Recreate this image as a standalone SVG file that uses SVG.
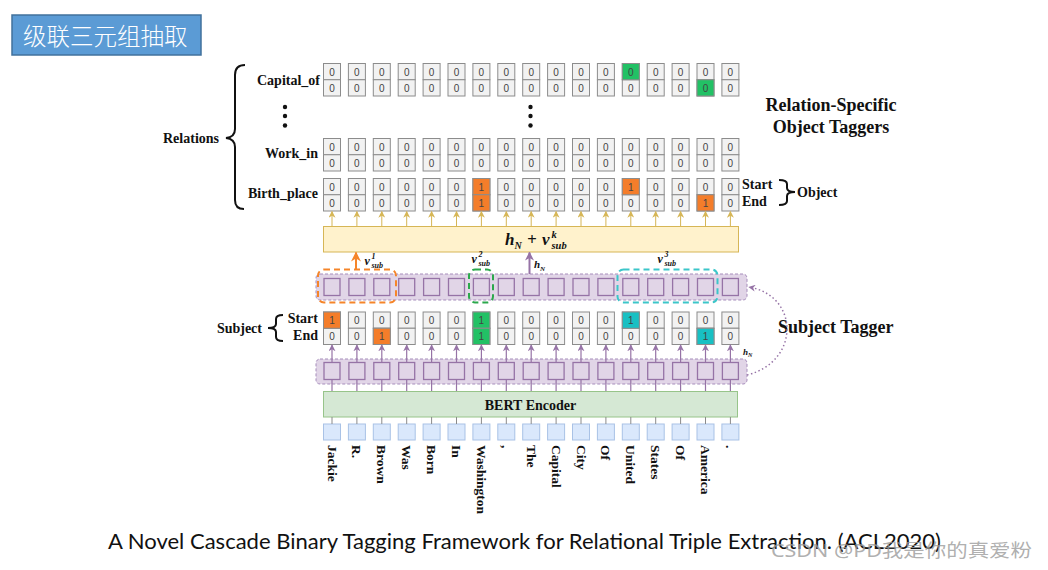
<svg xmlns="http://www.w3.org/2000/svg" xmlns:xlink="http://www.w3.org/1999/xlink" width="1048" height="570" viewBox="0 0 1048 570">
  <style>
    .cl{fill:#f2f2f2;stroke:#8c8c8c;stroke-width:1}
    .d{font-family:"Liberation Sans",Arial,sans-serif;font-size:10px;fill:#444;text-anchor:middle}
    .lb{font-family:"Liberation Serif","Times New Roman",serif;font-weight:bold;font-size:14px;fill:#111}
    .big{font-family:"Liberation Serif","Times New Roman",serif;font-weight:bold;font-size:18px;fill:#111}
    .tok{font-family:"Liberation Serif","Times New Roman",serif;font-weight:bold;font-size:13.5px;fill:#111;dominant-baseline:central}
    .mi{font-family:"Liberation Serif","Times New Roman",serif;font-weight:bold;font-style:italic;fill:#111}
    .or{fill:#f47d2a}
    .gr{fill:#22c165}
    .cy{fill:#18c0c3}
    .pc{fill:#e1d5e7;stroke:#9673a6;stroke-width:1.3}
    .tk{fill:#dae8fc;stroke:#a9c2e6;stroke-width:1}
    .gold{stroke:#d6b656;stroke-width:1}
    .pur{stroke:#9673a6;stroke-width:1.2}
    .gry{stroke:#8a8a8a;stroke-width:1}
    .brace{fill:none;stroke:#111;stroke-width:2}
  </style>
  <defs>
    <g id="c">
      <rect x="0" y="0" width="17" height="16.25" class="cl"/>
      <rect x="0" y="16.25" width="17" height="16.25" class="cl"/>
      <text x="8.5" y="12" class="d">0</text>
      <text x="8.5" y="28.3" class="d">0</text>
    </g>
    <rect id="pcell" x="0" y="0" width="16" height="17" class="pc"/>
    <rect id="tbox" x="0" y="0" width="17" height="16" class="tk"/>
    <marker id="ag" viewBox="0 0 10 10" refX="9" refY="5" markerWidth="7" markerHeight="7" markerUnits="userSpaceOnUse" orient="auto">
      <path d="M0,0 L10,5 L0,10 L3,5 z" fill="#d6b656"/>
    </marker>
    <marker id="ap" viewBox="0 0 10 10" refX="9" refY="5" markerWidth="7" markerHeight="7" markerUnits="userSpaceOnUse" orient="auto">
      <path d="M0,0 L10,5 L0,10 L3,5 z" fill="#9673a6"/>
    </marker>
    <marker id="ap2" viewBox="0 0 10 10" refX="9" refY="5" markerWidth="9" markerHeight="9" markerUnits="userSpaceOnUse" orient="auto">
      <path d="M0,0 L10,5 L0,10 L3,5 z" fill="#9673a6"/>
    </marker>
    <marker id="ao" viewBox="0 0 10 10" refX="9" refY="5" markerWidth="10" markerHeight="10" markerUnits="userSpaceOnUse" orient="auto">
      <path d="M0,0 L10,5 L0,10 L3,5 z" fill="#f5852a"/>
    </marker>
  </defs>

  <rect width="1048" height="570" fill="#ffffff"/>

  <!-- heading -->
  <g id="title">
    <rect x="12" y="15" width="189" height="40" fill="#5b9bd5" stroke="#41719c" stroke-width="1.5"/>
    <text x="23" y="44.5" font-family="'Noto Sans CJK SC','Noto Sans',sans-serif" font-size="23.5" font-weight="300" fill="#ffffff">级联三元组抽取</text>
  </g>

  <!-- relation labels and brace -->
  <g id="relations-label">
    <text x="219" y="143" class="lb" text-anchor="end">Relations</text>
    <path class="brace" d="M245,65 Q235,65 235,75 L235,129 Q235,137 226,138 Q235,139 235,147 L235,200 Q235,209 244,209"/>
    <text x="320" y="85" class="lb" text-anchor="end">Capital_of</text>
    <text x="318" y="158" class="lb" text-anchor="end">Work_in</text>
    <text x="318" y="198" class="lb" text-anchor="end">Birth_place</text>
    <circle cx="285" cy="107" r="2.2" fill="#111"/>
    <circle cx="285" cy="116" r="2.2" fill="#111"/>
    <circle cx="285" cy="125.5" r="2.2" fill="#111"/>
    <circle cx="530.5" cy="107" r="2.2" fill="#111"/>
    <circle cx="530.5" cy="116" r="2.2" fill="#111"/>
    <circle cx="530.5" cy="125.5" r="2.2" fill="#111"/>
  </g>

  <!-- Capital_of object tagger -->
  <g id="row-capital-of">
    <use xlink:href="#c" x="323.5" y="63.5"/><use xlink:href="#c" x="348.4" y="63.5"/><use xlink:href="#c" x="373.3" y="63.5"/><use xlink:href="#c" x="398.2" y="63.5"/>
    <use xlink:href="#c" x="423.1" y="63.5"/><use xlink:href="#c" x="448" y="63.5"/><use xlink:href="#c" x="472.9" y="63.5"/><use xlink:href="#c" x="497.8" y="63.5"/>
    <use xlink:href="#c" x="522.7" y="63.5"/><use xlink:href="#c" x="547.6" y="63.5"/><use xlink:href="#c" x="572.5" y="63.5"/><use xlink:href="#c" x="597.4" y="63.5"/>
    <use xlink:href="#c" x="622.3" y="63.5"/><use xlink:href="#c" x="647.2" y="63.5"/><use xlink:href="#c" x="672.1" y="63.5"/><use xlink:href="#c" x="697" y="63.5"/>
    <use xlink:href="#c" x="721.9" y="63.5"/>
    <rect x="622.3" y="63.5" width="17" height="16.25" class="gr" stroke="#8c8c8c"/>
    <text x="630.8" y="75.5" class="d">0</text>
    <rect x="697" y="79.75" width="17" height="16.25" class="gr" stroke="#8c8c8c"/>
    <text x="705.5" y="91.8" class="d">0</text>
  </g>

  <!-- Work_in object tagger -->
  <g id="row-work-in">
    <use xlink:href="#c" x="323.5" y="138.5"/><use xlink:href="#c" x="348.4" y="138.5"/><use xlink:href="#c" x="373.3" y="138.5"/><use xlink:href="#c" x="398.2" y="138.5"/>
    <use xlink:href="#c" x="423.1" y="138.5"/><use xlink:href="#c" x="448" y="138.5"/><use xlink:href="#c" x="472.9" y="138.5"/><use xlink:href="#c" x="497.8" y="138.5"/>
    <use xlink:href="#c" x="522.7" y="138.5"/><use xlink:href="#c" x="547.6" y="138.5"/><use xlink:href="#c" x="572.5" y="138.5"/><use xlink:href="#c" x="597.4" y="138.5"/>
    <use xlink:href="#c" x="622.3" y="138.5"/><use xlink:href="#c" x="647.2" y="138.5"/><use xlink:href="#c" x="672.1" y="138.5"/><use xlink:href="#c" x="697" y="138.5"/>
    <use xlink:href="#c" x="721.9" y="138.5"/>
  </g>

  <!-- Birth_place object tagger -->
  <g id="row-birth-place">
    <use xlink:href="#c" x="323.5" y="178.5"/><use xlink:href="#c" x="348.4" y="178.5"/><use xlink:href="#c" x="373.3" y="178.5"/><use xlink:href="#c" x="398.2" y="178.5"/>
    <use xlink:href="#c" x="423.1" y="178.5"/><use xlink:href="#c" x="448" y="178.5"/><use xlink:href="#c" x="472.9" y="178.5"/><use xlink:href="#c" x="497.8" y="178.5"/>
    <use xlink:href="#c" x="522.7" y="178.5"/><use xlink:href="#c" x="547.6" y="178.5"/><use xlink:href="#c" x="572.5" y="178.5"/><use xlink:href="#c" x="597.4" y="178.5"/>
    <use xlink:href="#c" x="622.3" y="178.5"/><use xlink:href="#c" x="647.2" y="178.5"/><use xlink:href="#c" x="672.1" y="178.5"/><use xlink:href="#c" x="697" y="178.5"/>
    <use xlink:href="#c" x="721.9" y="178.5"/>
    <rect x="472.9" y="178.5" width="17" height="16.25" class="or" stroke="#8c8c8c"/>
    <text x="481.4" y="190.5" class="d">1</text>
    <rect x="472.9" y="194.75" width="17" height="16.25" class="or" stroke="#8c8c8c"/>
    <text x="481.4" y="206.8" class="d">1</text>
    <rect x="622.3" y="178.5" width="17" height="16.25" class="or" stroke="#8c8c8c"/>
    <text x="630.8" y="190.5" class="d">1</text>
    <rect x="697" y="194.75" width="17" height="16.25" class="or" stroke="#8c8c8c"/>
    <text x="705.5" y="206.8" class="d">1</text>
  </g>

  <!-- object start/end legend -->
  <g id="object-label">
    <text x="742" y="189" class="lb">Start</text>
    <text x="742" y="206" class="lb">End</text>
    <path class="brace" d="M779,180 Q787,180 787,184 L787,188 Q787,192 795,192 Q787,192 787,196 L787,201 Q787,205 779,205"/>
    <text x="797" y="197" class="lb">Object</text>
  </g>

  <g id="object-taggers-title">
    <text x="831" y="111" class="big" text-anchor="middle">Relation-Specific</text>
    <text x="831" y="133" class="big" text-anchor="middle">Object Taggers</text>
  </g>

  <!-- h_N + v_sub^k fusion layer -->
  <g id="fusion">
    <rect x="323.5" y="226.5" width="415" height="25.5" fill="#fff2cc" stroke="#d6b656" stroke-width="1"/>
    <text class="mi" font-size="17" x="505" y="245">h</text>
    <text class="mi" font-size="10" x="514.5" y="249">N</text>
    <text class="mi" font-size="17" x="527" y="245">+</text>
    <text class="mi" font-size="17" x="542" y="245">v</text>
    <text class="mi" font-size="10.5" x="551.5" y="237.5">k</text>
    <text class="mi" font-size="10.5" x="551.5" y="249">sub</text>
  </g>

  <!-- subject span vectors: token encodings after subject tagging -->
  <g id="span-row">
    <rect x="316" y="274" width="431" height="26" rx="4" fill="#e1d5e7" stroke="#a68dbb" stroke-width="1" stroke-dasharray="3 2"/>
    <use xlink:href="#pcell" x="324" y="278.5"/><use xlink:href="#pcell" x="348.9" y="278.5"/><use xlink:href="#pcell" x="373.8" y="278.5"/><use xlink:href="#pcell" x="398.7" y="278.5"/>
    <use xlink:href="#pcell" x="423.6" y="278.5"/><use xlink:href="#pcell" x="448.5" y="278.5"/><use xlink:href="#pcell" x="473.4" y="278.5"/><use xlink:href="#pcell" x="498.3" y="278.5"/>
    <use xlink:href="#pcell" x="523.2" y="278.5"/><use xlink:href="#pcell" x="548.1" y="278.5"/><use xlink:href="#pcell" x="573" y="278.5"/><use xlink:href="#pcell" x="597.9" y="278.5"/>
    <use xlink:href="#pcell" x="622.8" y="278.5"/><use xlink:href="#pcell" x="647.7" y="278.5"/><use xlink:href="#pcell" x="672.6" y="278.5"/><use xlink:href="#pcell" x="697.5" y="278.5"/>
    <use xlink:href="#pcell" x="722.4" y="278.5"/>
    <rect x="318" y="269.5" width="78" height="33" rx="6" fill="none" stroke="#f5852a" stroke-width="2" stroke-dasharray="6 4"/>
    <rect x="469" y="269.5" width="24" height="33" rx="6" fill="none" stroke="#2ca84c" stroke-width="2" stroke-dasharray="6 4"/>
    <rect x="617.5" y="269.5" width="100" height="33" rx="6" fill="none" stroke="#3cc6c9" stroke-width="2" stroke-dasharray="6 4"/>
    <text class="mi" font-size="12" x="364.5" y="265">v</text>
    <text class="mi" font-size="8" x="371.5" y="259">1</text>
    <text class="mi" font-size="8" x="371.5" y="267.5">sub</text>
    <text class="mi" font-size="12" x="471.5" y="263">v</text>
    <text class="mi" font-size="8" x="478.5" y="257">2</text>
    <text class="mi" font-size="8" x="478.5" y="265.5">sub</text>
    <text class="mi" font-size="12" x="657.5" y="263">v</text>
    <text class="mi" font-size="8" x="664.5" y="257">3</text>
    <text class="mi" font-size="8" x="664.5" y="265.5">sub</text>
    <text class="mi" font-size="11" x="534" y="268">h</text>
    <text class="mi" font-size="7" x="540" y="271">N</text>
  </g>

  <!-- subject tagger output -->
  <g id="row-subject">
    <use xlink:href="#c" x="323.5" y="312"/><use xlink:href="#c" x="348.4" y="312"/><use xlink:href="#c" x="373.3" y="312"/><use xlink:href="#c" x="398.2" y="312"/>
    <use xlink:href="#c" x="423.1" y="312"/><use xlink:href="#c" x="448" y="312"/><use xlink:href="#c" x="472.9" y="312"/><use xlink:href="#c" x="497.8" y="312"/>
    <use xlink:href="#c" x="522.7" y="312"/><use xlink:href="#c" x="547.6" y="312"/><use xlink:href="#c" x="572.5" y="312"/><use xlink:href="#c" x="597.4" y="312"/>
    <use xlink:href="#c" x="622.3" y="312"/><use xlink:href="#c" x="647.2" y="312"/><use xlink:href="#c" x="672.1" y="312"/><use xlink:href="#c" x="697" y="312"/>
    <use xlink:href="#c" x="721.9" y="312"/>
    <rect x="323.5" y="312" width="17" height="16.25" class="or" stroke="#8c8c8c"/>
    <text x="332" y="324" class="d">1</text>
    <rect x="373.3" y="328.25" width="17" height="16.25" class="or" stroke="#8c8c8c"/>
    <text x="381.8" y="340.3" class="d">1</text>
    <rect x="472.9" y="312" width="17" height="16.25" class="gr" stroke="#8c8c8c"/>
    <text x="481.4" y="324" class="d">1</text>
    <rect x="472.9" y="328.25" width="17" height="16.25" class="gr" stroke="#8c8c8c"/>
    <text x="481.4" y="340.3" class="d">1</text>
    <rect x="622.3" y="312" width="17" height="16.25" class="cy" stroke="#8c8c8c"/>
    <text x="630.8" y="324" class="d">1</text>
    <rect x="697" y="328.25" width="17" height="16.25" class="cy" stroke="#8c8c8c"/>
    <text x="705.5" y="340.3" class="d">1</text>
  </g>

  <g id="subject-label">
    <text x="262" y="333" class="lb" text-anchor="end">Subject</text>
    <path class="brace" d="M283,315 Q276,315 276,319 L276,324 Q276,328 268,328 Q276,328 276,332 L276,337 Q276,341 283,341"/>
    <text x="318" y="323" class="lb" text-anchor="end">Start</text>
    <text x="318" y="340" class="lb" text-anchor="end">End</text>
  </g>

  <g id="subject-tagger-title">
    <text x="778" y="333" class="big">Subject Tagger</text>
  </g>

  <!-- encoded tokens h_N -->
  <g id="encoding-row">
    <rect x="316" y="359" width="431" height="25" rx="4" fill="#e1d5e7" stroke="#a68dbb" stroke-width="1" stroke-dasharray="3 2"/>
    <use xlink:href="#pcell" x="324" y="362.5"/><use xlink:href="#pcell" x="348.9" y="362.5"/><use xlink:href="#pcell" x="373.8" y="362.5"/><use xlink:href="#pcell" x="398.7" y="362.5"/>
    <use xlink:href="#pcell" x="423.6" y="362.5"/><use xlink:href="#pcell" x="448.5" y="362.5"/><use xlink:href="#pcell" x="473.4" y="362.5"/><use xlink:href="#pcell" x="498.3" y="362.5"/>
    <use xlink:href="#pcell" x="523.2" y="362.5"/><use xlink:href="#pcell" x="548.1" y="362.5"/><use xlink:href="#pcell" x="573" y="362.5"/><use xlink:href="#pcell" x="597.9" y="362.5"/>
    <use xlink:href="#pcell" x="622.8" y="362.5"/><use xlink:href="#pcell" x="647.7" y="362.5"/><use xlink:href="#pcell" x="672.6" y="362.5"/><use xlink:href="#pcell" x="697.5" y="362.5"/>
    <use xlink:href="#pcell" x="722.4" y="362.5"/>
  </g>

  <g id="bert">
    <rect x="323.5" y="391.5" width="414" height="25.5" fill="#d5e8d4" stroke="#97c48a" stroke-width="1"/>
    <text x="530.5" y="409.5" class="lb" font-size="15" text-anchor="middle">BERT Encoder</text>
  </g>

  <!-- input tokens -->
  <g id="tokens">
    <use xlink:href="#tbox" x="323.5" y="424"/><use xlink:href="#tbox" x="348.4" y="424"/><use xlink:href="#tbox" x="373.3" y="424"/><use xlink:href="#tbox" x="398.2" y="424"/>
    <use xlink:href="#tbox" x="423.1" y="424"/><use xlink:href="#tbox" x="448" y="424"/><use xlink:href="#tbox" x="472.9" y="424"/><use xlink:href="#tbox" x="497.8" y="424"/>
    <use xlink:href="#tbox" x="522.7" y="424"/><use xlink:href="#tbox" x="547.6" y="424"/><use xlink:href="#tbox" x="572.5" y="424"/><use xlink:href="#tbox" x="597.4" y="424"/>
    <use xlink:href="#tbox" x="622.3" y="424"/><use xlink:href="#tbox" x="647.2" y="424"/><use xlink:href="#tbox" x="672.1" y="424"/><use xlink:href="#tbox" x="697" y="424"/>
    <use xlink:href="#tbox" x="721.9" y="424"/>
    <text class="tok" transform="translate(332 445) rotate(90)">Jackie</text>
    <text class="tok" transform="translate(356.9 445) rotate(90)">R.</text>
    <text class="tok" transform="translate(381.8 445) rotate(90)">Brown</text>
    <text class="tok" transform="translate(406.7 445) rotate(90)">Was</text>
    <text class="tok" transform="translate(431.6 445) rotate(90)">Born</text>
    <text class="tok" transform="translate(456.5 445) rotate(90)">In</text>
    <text class="tok" transform="translate(481.4 445) rotate(90)">Washington</text>
    <text class="tok" transform="translate(506.3 445) rotate(90)">,</text>
    <text class="tok" transform="translate(531.2 445) rotate(90)">The</text>
    <text class="tok" transform="translate(556.1 445) rotate(90)">Capital</text>
    <text class="tok" transform="translate(581 445) rotate(90)">City</text>
    <text class="tok" transform="translate(605.9 445) rotate(90)">Of</text>
    <text class="tok" transform="translate(630.8 445) rotate(90)">United</text>
    <text class="tok" transform="translate(655.7 445) rotate(90)">States</text>
    <text class="tok" transform="translate(680.6 445) rotate(90)">Of</text>
    <text class="tok" transform="translate(705.5 445) rotate(90)">America</text>
    <text class="tok" transform="translate(730.4 445) rotate(90)">.</text>
  </g>

  <!-- connectors -->
  <g id="connectors" fill="none">
    <!-- fusion layer to Birth_place tagger -->
    <line class="gold" x1="332" y1="226" x2="332" y2="211.5" marker-end="url(#ag)"/>
    <line class="gold" x1="356.9" y1="226" x2="356.9" y2="211.5" marker-end="url(#ag)"/>
    <line class="gold" x1="381.8" y1="226" x2="381.8" y2="211.5" marker-end="url(#ag)"/>
    <line class="gold" x1="406.7" y1="226" x2="406.7" y2="211.5" marker-end="url(#ag)"/>
    <line class="gold" x1="431.6" y1="226" x2="431.6" y2="211.5" marker-end="url(#ag)"/>
    <line class="gold" x1="456.5" y1="226" x2="456.5" y2="211.5" marker-end="url(#ag)"/>
    <line class="gold" x1="481.4" y1="226" x2="481.4" y2="211.5" marker-end="url(#ag)"/>
    <line class="gold" x1="506.3" y1="226" x2="506.3" y2="211.5" marker-end="url(#ag)"/>
    <line class="gold" x1="531.2" y1="226" x2="531.2" y2="211.5" marker-end="url(#ag)"/>
    <line class="gold" x1="556.1" y1="226" x2="556.1" y2="211.5" marker-end="url(#ag)"/>
    <line class="gold" x1="581" y1="226" x2="581" y2="211.5" marker-end="url(#ag)"/>
    <line class="gold" x1="605.9" y1="226" x2="605.9" y2="211.5" marker-end="url(#ag)"/>
    <line class="gold" x1="630.8" y1="226" x2="630.8" y2="211.5" marker-end="url(#ag)"/>
    <line class="gold" x1="655.7" y1="226" x2="655.7" y2="211.5" marker-end="url(#ag)"/>
    <line class="gold" x1="680.6" y1="226" x2="680.6" y2="211.5" marker-end="url(#ag)"/>
    <line class="gold" x1="705.5" y1="226" x2="705.5" y2="211.5" marker-end="url(#ag)"/>
    <line class="gold" x1="730.4" y1="226" x2="730.4" y2="211.5" marker-end="url(#ag)"/>

    <!-- span vector and h_N into fusion layer -->
    <line x1="356" y1="269" x2="356" y2="252.5" stroke="#f5852a" stroke-width="2" marker-end="url(#ao)"/>
    <line x1="529.5" y1="274" x2="529.5" y2="252.5" stroke="#9673a6" stroke-width="2" marker-end="url(#ap2)"/>

    <!-- encodings to subject tagger -->
    <line class="pur" x1="332" y1="362" x2="332" y2="345" marker-end="url(#ap)"/>
    <line class="pur" x1="356.9" y1="362" x2="356.9" y2="345" marker-end="url(#ap)"/>
    <line class="pur" x1="381.8" y1="362" x2="381.8" y2="345" marker-end="url(#ap)"/>
    <line class="pur" x1="406.7" y1="362" x2="406.7" y2="345" marker-end="url(#ap)"/>
    <line class="pur" x1="431.6" y1="362" x2="431.6" y2="345" marker-end="url(#ap)"/>
    <line class="pur" x1="456.5" y1="362" x2="456.5" y2="345" marker-end="url(#ap)"/>
    <line class="pur" x1="481.4" y1="362" x2="481.4" y2="345" marker-end="url(#ap)"/>
    <line class="pur" x1="506.3" y1="362" x2="506.3" y2="345" marker-end="url(#ap)"/>
    <line class="pur" x1="531.2" y1="362" x2="531.2" y2="345" marker-end="url(#ap)"/>
    <line class="pur" x1="556.1" y1="362" x2="556.1" y2="345" marker-end="url(#ap)"/>
    <line class="pur" x1="581" y1="362" x2="581" y2="345" marker-end="url(#ap)"/>
    <line class="pur" x1="605.9" y1="362" x2="605.9" y2="345" marker-end="url(#ap)"/>
    <line class="pur" x1="630.8" y1="362" x2="630.8" y2="345" marker-end="url(#ap)"/>
    <line class="pur" x1="655.7" y1="362" x2="655.7" y2="345" marker-end="url(#ap)"/>
    <line class="pur" x1="680.6" y1="362" x2="680.6" y2="345" marker-end="url(#ap)"/>
    <line class="pur" x1="705.5" y1="362" x2="705.5" y2="345" marker-end="url(#ap)"/>
    <line class="pur" x1="730.4" y1="362" x2="730.4" y2="345" marker-end="url(#ap)"/>

    <!-- BERT outputs to encodings -->
    <path class="pur" d="M332,391 V380 M356.9,391 V380 M381.8,391 V380 M406.7,391 V380 M431.6,391 V380 M456.5,391 V380 M481.4,391 V380 M506.3,391 V380 M531.2,391 V380 M556.1,391 V380 M581,391 V380 M605.9,391 V380 M630.8,391 V380 M655.7,391 V380 M680.6,391 V380 M705.5,391 V380 M730.4,391 V380"/>

    <!-- tokens into BERT -->
    <path class="gry" d="M332,424 V417 M356.9,424 V417 M381.8,424 V417 M406.7,424 V417 M431.6,424 V417 M456.5,424 V417 M481.4,424 V417 M506.3,424 V417 M531.2,424 V417 M556.1,424 V417 M581,424 V417 M605.9,424 V417 M630.8,424 V417 M655.7,424 V417 M680.6,424 V417 M705.5,424 V417 M730.4,424 V417"/>

    <!-- h_N fed back to the span row -->
    <path d="M747,375 C800,362 800,296 749,287" stroke="#9673a6" stroke-width="1.5" stroke-dasharray="1.5 2.5" marker-end="url(#ap)"/>
    <text class="mi" font-size="9" x="743" y="355" stroke="none" fill="#111">h</text>
    <text class="mi" font-size="6" x="748" y="357" stroke="none" fill="#111">N</text>
  </g>

  <!-- caption and site watermark -->
  <g id="caption">
    <text x="108" y="549" font-family="Lato,'Open Sans',sans-serif" font-size="21.5" fill="#111" textLength="833" lengthAdjust="spacingAndGlyphs">A Novel Cascade Binary Tagging Framework for Relational Triple Extraction. (ACL2020)</text>
    <text x="771" y="557" font-family="'Noto Sans','Noto Sans CJK SC',sans-serif" font-size="18" fill="#9a9a9a" fill-opacity="0.8" textLength="261" lengthAdjust="spacingAndGlyphs">CSDN @PD我是你的真爱粉</text>
  </g>
</svg>
